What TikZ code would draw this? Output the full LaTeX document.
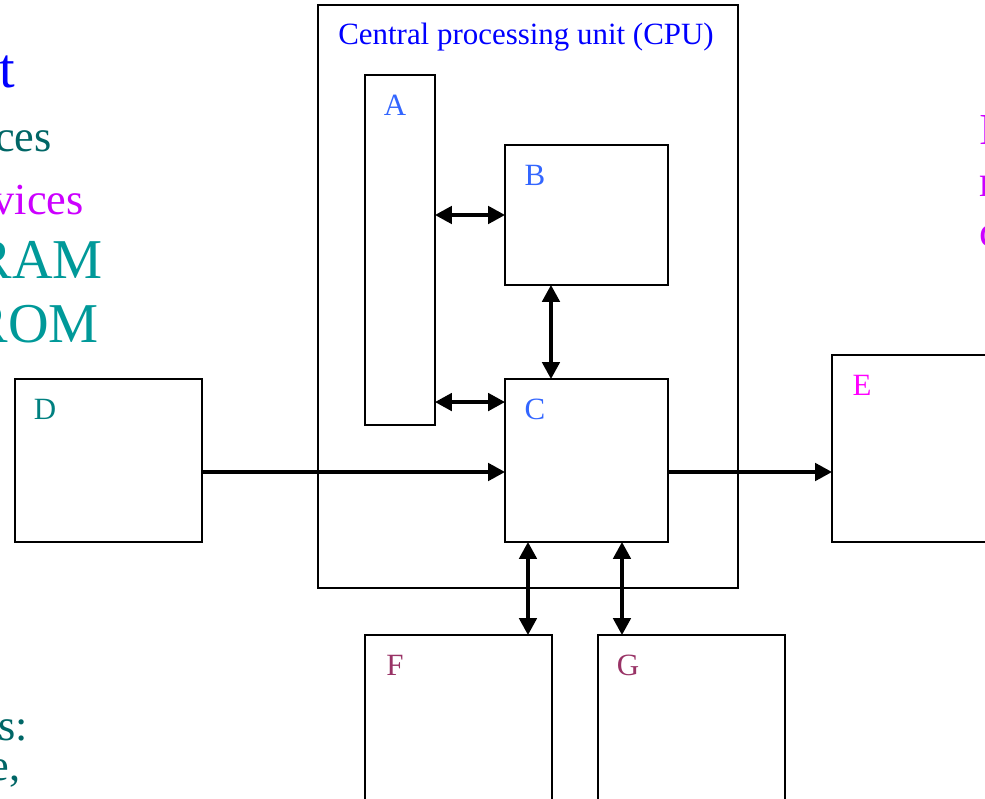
\documentclass[tikz,border=0pt]{standalone}
\usepackage{fontspec}
\setmainfont{Liberation Serif}
\usetikzlibrary{arrows.meta, calc, positioning}
\definecolor{cpublue}{RGB}{0,0,255}
\definecolor{unitblue}{RGB}{51,102,255}
\definecolor{inteal}{RGB}{0,128,128}
\definecolor{darkteal}{RGB}{0,102,102}
\definecolor{memteal}{RGB}{0,153,153}
\definecolor{outmagenta}{RGB}{255,0,255}
\definecolor{violetmag}{RGB}{204,0,255}
\definecolor{storeplum}{RGB}{153,51,102}

\begin{document}
\begin{tikzpicture}[
    x=0.025cm, y=-0.025cm,
    >={Triangle[length=12pt,width=12.5pt]},
    box/.style={draw, line width=1.1pt, fill=white,
                inner sep=0pt, outer sep=0pt},
    tag/.style={font=\fontsize{22}{24}\selectfont, inner sep=0pt},
    link/.style={line width=2.2pt},
    bigtext/.style={font=\fontsize{40}{44}\selectfont,
                    inner sep=0pt, anchor=base east},
    midtext/.style={font=\fontsize{31.5}{34}\selectfont,
                    inner sep=0pt, anchor=base east},
]
\useasboundingbox (0,0) rectangle (985,799);
\clip (0,0) rectangle (985,799);

% ---------------- CPU frame and its parts -------------------------------
\node[box, minimum width=10.5cm, minimum height=14.575cm]
    (cpu) at (528, 296.5) {};
\node[tag, text=cpublue, anchor=base] (cputitle) at (526, 45)
    {Central processing unit (CPU)};

\node[box, minimum width=1.75cm,  minimum height=8.75cm]  (A) at (400, 250)   {};
\node[box, minimum width=4.075cm, minimum height=3.5cm]   (B) at (586.5, 215) {};
\node[box, minimum width=4.075cm, minimum height=4.075cm] (C) at (586.5, 460.5) {};

% ---------------- outside units ----------------------------------------
\node[box, minimum width=4.675cm, minimum height=4.075cm] (D) at (108.5, 460.5) {};
\node[box, minimum width=4.675cm, minimum height=4.675cm] (E) at (925.5, 448.5) {};
\node[box, minimum width=4.675cm, minimum height=4.675cm] (F) at (458.5, 728.5) {};
\node[box, minimum width=4.675cm, minimum height=4.675cm] (G) at (691.5, 728.5) {};

% Letters in the top left corner of each unit
\node[tag, text=unitblue]   (tagA) at ($(A.north west)+(30,30)$) {A};
\node[tag, text=unitblue]   (tagB) at ($(B.north west)+(30,30)$) {B};
\node[tag, text=unitblue]   (tagC) at ($(C.north west)+(30,30)$) {C};
\node[tag, text=inteal]     (tagD) at ($(D.north west)+(30,30)$) {D};
\node[tag, text=outmagenta] (tagE) at ($(E.north west)+(30,30)$) {E};
\node[tag, text=storeplum]  (tagF) at ($(F.north west)+(30,30)$) {F};
\node[tag, text=storeplum]  (tagG) at ($(G.north west)+(30,30)$) {G};

% ---------------- connectors -------------------------------------------
\draw[link, <->] (A.east |- B.west) -- (B.west);
\coordinate (ac) at ($(A.south east)+(0,-23)$);
\draw[link, <->] (ac) -- (ac -| C.west);
\coordinate (bc) at ($(B.south west)+(46,0)$);
\draw[link, <->] (bc) -- (bc |- C.north);

\coordinate (dc) at ($(D.east)+(0,11.5)$);
\draw[link, ->] (dc) -- (dc -| C.west);
\coordinate (ce) at ($(C.east)+(0,11.5)$);
\draw[link, ->] (ce) -- (ce -| E.west);

\coordinate (cf) at ($(C.south west)+(23,0)$);
\draw[link, <->] (cf) -- (cf |- F.north);
\coordinate (cg) at ($(C.south west)+(117,0)$);
\draw[link, <->] (cg) -- (cg |- G.north);

% ---------------- cut-off slide text at the edges ----------------------
\node[bigtext, text=cpublue]   (frag1) at (15, 88)  {t};
\node[midtext, text=darkteal]  (frag2) at (52, 152) {ces};
\node[midtext, text=violetmag] (frag3) at (84, 215) {vices};
\node[bigtext, text=memteal]   (frag4) at (103, 279) {RAM};
\node[bigtext, text=memteal]   (frag5) at (99, 343) {ROM};
\node[midtext, text=darkteal]  (frag6) at (28, 740) {es:};
\node[midtext, text=darkteal]  (frag7) at (21, 780) {e,};

\node[midtext, text=violetmag, anchor=base west] (frag8)  at (979, 145) {I};
\node[midtext, text=violetmag, anchor=base west] (frag9)  at (979, 197) {r};
\node[midtext, text=violetmag, anchor=base west] (frag10) at (979, 247) {c};

\end{tikzpicture}
\end{document}
